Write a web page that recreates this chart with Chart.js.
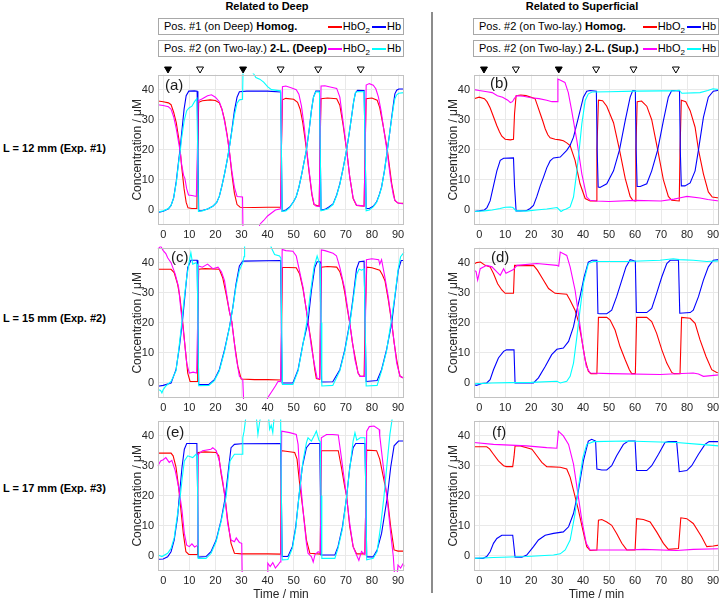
<!DOCTYPE html>
<html><head><meta charset="utf-8">
<script src="https://cdn.jsdelivr.net/npm/chart.js@4.4.1/dist/chart.umd.min.js"></script>
<style>
html,body{margin:0;padding:0;background:#fff;}
body{width:722px;height:603px;position:relative;overflow:hidden;font-family:"Liberation Sans",Arial,Helvetica,sans-serif;color:#000;}
.abs{position:absolute;white-space:nowrap;}
.hdr{font-weight:bold;font-size:11px;line-height:13px;text-align:center;width:220px;top:0px;}
.rowlab{font-weight:bold;font-size:11px;line-height:14px;left:3px;}
.legbox{position:absolute;border:1px solid #a8a8a8;background:#fff;box-sizing:border-box;height:17px;font-size:11px;line-height:15px;}
.legbox .txt{position:absolute;left:5px;top:0;white-space:nowrap;}
.legbox .items{position:absolute;right:2px;top:0;height:15px;display:flex;align-items:center;white-space:nowrap;}
.sw{display:inline-block;width:14px;height:2px;margin-right:1px;}
.lt{margin-right:2px;}
.lt:last-child{margin-right:0;}
sub{font-size:8px;line-height:0;vertical-align:-3px;}
.plab{font-size:15px;line-height:17px;color:#1a1a1a;z-index:5;}
canvas{position:absolute;}
.strip{z-index:4;}
.sep{position:absolute;left:431px;top:12px;width:2px;height:581px;background:#8c8c8c;}
</style></head><body>

<div class="abs hdr" style="left:157px;">Related to Deep</div>
<div class="abs hdr" style="left:472px;">Related to Superficial</div>
<div class="sep"></div>

<div class="legbox" style="left:158px;top:18px;width:246px;"><span class="txt">Pos. #1 (on Deep) <b>Homog.</b></span><span class="items"><span class="sw" style="background:#ff0000"></span><span class="lt">HbO<sub>2</sub></span><span class="sw" style="background:#0000ff"></span><span class="lt">Hb</span></span></div>
<div class="legbox" style="left:158px;top:40px;width:246px;"><span class="txt">Pos. #2 (on Two-lay.) <b>2-L. (Deep)</b></span><span class="items"><span class="sw" style="background:#ff00ff"></span><span class="lt">HbO<sub>2</sub></span><span class="sw" style="background:#00ffff"></span><span class="lt">Hb</span></span></div>
<div class="legbox" style="left:473px;top:18px;width:246px;"><span class="txt">Pos. #2 (on Two-lay.) <b>Homog.</b></span><span class="items"><span class="sw" style="background:#ff0000"></span><span class="lt">HbO<sub>2</sub></span><span class="sw" style="background:#0000ff"></span><span class="lt">Hb</span></span></div>
<div class="legbox" style="left:473px;top:40px;width:246px;"><span class="txt">Pos. #2 (on Two-lay.) <b>2-L. (Sup.)</b></span><span class="items"><span class="sw" style="background:#ff00ff"></span><span class="lt">HbO<sub>2</sub></span><span class="sw" style="background:#00ffff"></span><span class="lt">Hb</span></span></div>

<div class="abs rowlab" style="top:141px;">L = 12 mm (Exp. #1)</div>
<div class="abs rowlab" style="top:311px;">L = 15 mm (Exp. #2)</div>
<div class="abs rowlab" style="top:481px;">L = 17 mm (Exp. #3)</div>

<script>
// ---------- DATA ----------
const timeTicks = [0,10,20,30,40,50,60,70,80,90];
const concTicks = [0,10,20,30,40];
const deoxyEvents = [0, 30];
const reoxyEvents = [12.8, 45, 60, 77];
const panelLetters = ['(a)','(b)','(c)','(d)','(e)','(f)'];

// (a) Exp #1, related to deep
const aHomogHbO2 = [[-2,36.2],[0,36],[2,35.6],[3,35],[4,32.5],[5,29],[6,23.5],[6.5,20],[7,15],[8,7],[8.8,2.5],[9.5,0.7],[11,0.5],[12.9,0.5],[13.2,20],[13.6,35.8],[15,36.3],[18,36.6],[20,36.4],[21.5,35.6],[22.5,33.5],[23.5,30],[24.5,25],[25.3,20],[26.3,12],[27.3,5.5],[28.3,1.8],[29.5,0.9],[35,0.8],[40,0.9],[45,0.9],[45.3,20],[45.7,36.6],[47,37.1],[50,36.8],[51.5,35.8],[52.5,33.5],[53.5,29],[54.3,24],[55,19.5],[56,12],[57,5],[57.8,1.8],[59.8,1.2],[60.1,20],[60.5,37],[63,37.2],[66.5,37],[67.7,34.8],[69,28],[70.3,20],[71.5,11],[72.8,3.8],[74.1,1.5],[77,1.3],[77.4,20],[77.8,37],[80,37.2],[82,36.5],[83,34],[84.4,27.6],[85.9,20],[87.6,8.7],[88.8,3.2],[90,2.3],[92.3,2.2]];
const aHomogHb = [[-2,-0.8],[0,-0.4],[2,0.4],[3,1.5],[4,4],[5,9.5],[6,17],[6.5,20.5],[7,25],[8,33.5],[8.8,38],[9.8,39.5],[12,39.6],[13,39.5],[13.3,20],[13.6,-0.4],[15,-0.2],[17,0.3],[19,1.2],[20.5,2.5],[21.5,4.5],[22.5,8],[23.5,12],[24.5,16.5],[25.3,20.5],[26.3,26.5],[27.3,33],[28.3,37.5],[29.2,39.3],[32,39.5],[40,39.5],[45,39.2],[45.3,20],[45.6,-0.4],[47,0],[48.5,1],[50,2.8],[51,4.5],[52,7.5],[53,11.5],[54,16],[54.9,20],[56,27],[56.8,33],[57.6,37.5],[58.5,39.5],[59.9,39.5],[60.2,20],[60.5,0],[62,0.2],[63.5,1],[65.1,2],[66.5,5],[67.7,8.7],[69,14],[70.3,20],[71.3,25.5],[72.2,31],[73,36],[73.7,39],[74.5,39.8],[77,39.7],[77.4,20],[77.8,0.5],[79,0.5],[80.5,1.2],[81.8,2.7],[82.8,5],[83.7,7.6],[84.8,13],[85.9,19.8],[86.8,25.5],[87.6,31],[88.3,35.5],[88.8,38.6],[89.5,39.8],[90.3,40.2],[92.3,40.2]];
const aTwoLayerHbO2 = [[-2,35],[0,34.7],[2,34.3],[3,33.5],[4,31],[5,27],[6,22],[6.5,19.5],[7,15.5],[7.8,11.5],[8.3,10.5],[9,7],[9.7,5],[11,4.8],[12.7,4.5],[13.1,20],[13.4,36.3],[15,37],[17,38],[18.5,38.3],[20,37.5],[21.5,36],[22.5,33.5],[23.5,29.5],[24.5,24.5],[25.3,20],[26.3,13],[27.3,7.5],[28.3,4.5],[30.4,4.3],[30.6,-8],[36.5,-8],[37,-4.8],[38.5,-3.5],[40,-2],[41.5,-1],[43,0],[45,0.4],[45.3,20],[45.7,41],[47,41.2],[49,40.6],[51,40],[52,38.5],[53,34.5],[54,28],[55,20],[56,12.5],[57,5.5],[57.8,2],[58.5,1.3],[59.8,1.1],[60.1,20],[60.5,41.2],[62,41.3],[64,40.9],[66.5,40.4],[67.7,37.5],[69,29],[70.3,20],[71.5,11],[72.8,4],[74.1,1.6],[77,1.3],[77.4,20],[77.8,41.5],[79,42],[80.5,41.5],[81.5,40.3],[82.5,37.5],[83.5,33],[84.4,27.6],[85.9,19],[87.2,10],[88.2,5],[88.8,3.2],[90,2.3],[92.3,2]];
const aTwoLayerHb = [[-2,-0.7],[0,-0.3],[2,0.5],[3,1.5],[4,4],[5,9],[6,16.5],[6.6,20],[7,23.5],[8,29.5],[9,33],[10,34],[11,34.5],[12,36],[12.9,37],[13.2,20],[13.5,-0.5],[15,-0.3],[17,0.3],[19,1.2],[20.5,2.5],[21.5,4.5],[22.5,8],[23.5,12],[24.5,16.5],[25.3,20.5],[26.3,26],[27.3,31.5],[28.3,35.5],[29.2,36.6],[30.4,36.8],[30.6,46.5],[33,46],[34.5,45.5],[35.5,44],[37,43.5],[38.5,42.5],[40,41],[41.5,40],[45,39.6],[45.3,20],[45.6,-0.5],[47,-0.3],[48.5,0.8],[50,2.8],[51,4.5],[52,7.5],[53,11.5],[54,16],[54.9,20],[56,27],[56.8,33],[57.6,37.5],[58.5,39.3],[59.9,39.2],[60.2,20],[60.5,-0.3],[63,0.3],[65.1,1.8],[66.5,4.8],[67.7,8.5],[69,14],[70.3,20],[71.3,25.5],[72.2,31],[73,36],[73.7,39],[74.5,39.4],[77,39.3],[77.4,20],[77.8,-0.3],[79,0],[80.5,1],[81.8,2.5],[82.8,4.8],[83.7,7.5],[84.8,13],[85.9,19.8],[86.8,25.5],[87.6,30.5],[88.3,34.5],[88.8,37],[89.5,38.3],[90.3,38.8],[92.3,39]];

// (b) Exp #1, related to superficial
const bHomogHbO2 = [[-2,37],[0,37.5],[2,37],[3,36],[4.2,34],[5.5,31],[6.8,28],[7.8,26],[8.7,24.5],[10,23.5],[12,23.3],[13.2,23.5],[13.6,32],[14.2,38],[16,38.2],[18,38],[20,37.5],[21.5,37],[22.5,34.5],[23.5,32],[24.5,29.5],[25.4,27],[26.4,25],[27.3,24],[29.2,23.5],[31,23.3],[32.4,23],[33.7,22.3],[35,21.4],[36.9,16.5],[38.8,8.7],[40.8,3.8],[42.7,3],[45,3],[45.3,20],[45.9,36.5],[47.5,36.3],[49.1,34.5],[51.7,29],[54,20],[56.2,10.5],[58.1,4.5],[59.1,3.2],[60,3],[60.3,20],[60.8,36],[62.5,36.2],[64.5,34.5],[66.4,30],[68.7,20],[70.9,10],[72.8,4.5],[74.1,3.2],[77,3],[77.3,20],[77.8,36.5],[79.5,36],[81.2,33],[83.1,27.5],[84.4,20],[86.3,12],[88.2,6],[89.7,4.3],[92.3,4]];
const bHomogHb = [[-2,-0.5],[0,-0.3],[2,0],[3,0.8],[4.2,3],[5.5,8],[6.8,13],[8.1,16.5],[9.4,17.2],[13.2,17.3],[13.6,8],[14.2,-0.3],[16,-0.3],[18.3,-0.2],[19.6,0.5],[20.9,1.5],[22.2,4.5],[23.5,8],[24.8,11],[26,14],[27.3,16.3],[28.6,17.3],[31.2,17.6],[33.7,19.8],[35,21.5],[36.3,24.2],[38.2,30.8],[40.1,37.5],[41.4,39.5],[42.7,39.7],[45.1,39.5],[45.4,20],[45.8,7.6],[46.5,7.5],[49.1,8.7],[51.7,13],[54,20],[56.2,29.7],[58.1,37.5],[59.1,39.7],[60.1,39.6],[60.4,20],[60.8,7.8],[62,7.8],[64.5,8.7],[66.4,13],[68.7,20],[70.9,29.7],[72.8,37.5],[74.1,39.7],[77.1,39.6],[77.4,20],[77.8,8],[79.2,8],[81.2,9],[83.1,13],[84.4,20],[86.3,30.8],[88.2,37.5],[90.1,39.5],[92.3,39.8]];
const bTwoLayerHbO2 = [[-2,40],[0,39.7],[3,39.3],[5,39],[7,38],[9,37.5],[11,36.5],[12,35.7],[12.8,36],[13.5,37],[14.5,38],[17,37.8],[20,37.3],[23,37],[26,36.5],[28,36],[30,36],[30.3,43.5],[31.5,43],[33,42.4],[34.3,39],[35.6,33],[37.6,23],[39.5,12],[41.4,4.3],[42.7,3.2],[45,3],[50,2.8],[60,3.2],[70,3],[75,3.6],[77,4],[80,4.5],[85,4],[88,3.5],[92.3,3]];
const bTwoLayerHb = [[-2,-0.5],[2,-0.3],[5,0],[8,0.5],[10,0.9],[12,1],[13,0.8],[14.2,-0.3],[16,-0.3],[18,-0.4],[22,0],[26,0.3],[30,0.8],[31.5,-0.5],[32.4,0],[33.5,0.3],[35,1],[36.3,4.3],[37.6,13],[38.5,20],[39.5,28.6],[40.8,36.4],[42,38.6],[43.5,39.2],[50,39.3],[60,39.5],[70,39.6],[75,39.6],[77,39.8],[78,38.8],[85,39],[88,39.7],[90,40.3],[92.3,40]];

// (c) Exp #2, related to deep
const cHomogHbO2 = [[-2,37.8],[0,37.8],[3,37.8],[4.2,36.7],[5.5,32.9],[6.4,28.5],[7.4,20.8],[8.5,11],[9.4,3.3],[10.3,0.5],[13,0.5],[13.2,20],[13.6,37.8],[16,38],[21.5,37.8],[22.8,35],[24.1,29.6],[25.4,23.6],[26.3,20.3],[27.3,13.2],[28.6,5.5],[29.9,1.3],[35,1.1],[40,1.1],[45.1,1],[45.4,20],[45.7,38.4],[48,38.4],[51,38.3],[52.3,36.2],[53.6,31.2],[54.9,24.1],[55.5,20.3],[56.8,13.2],[58.1,4.4],[58.7,1.5],[60,1.2],[60.3,20],[60.6,38.5],[63,38.7],[66.5,38.5],[67.7,37],[68.7,34],[69.6,30],[70.5,25],[71.5,20],[72.5,13.5],[73.5,8.8],[74.7,3.3],[75.5,2.2],[77,2.2],[77.4,20],[78,38.5],[80,38.3],[83,37.5],[84,36],[85,34],[86.3,27.5],[87.6,20],[88.5,13.5],[89.5,7.7],[90.3,4],[90.8,2.2],[92.3,1.6]];
const cHomogHb = [[-2,-1.1],[0,-0.8],[3,0],[4.9,4.4],[6.2,12],[7.4,20.8],[8.5,30.7],[9.4,38.4],[10.6,40.8],[13,40.8],[13.3,20],[13.6,-0.5],[17.5,-0.5],[19.6,1.1],[21.5,4.4],[23.5,11],[25.4,18.6],[26.7,25.2],[27.9,32.9],[29.2,38.9],[30.5,40.5],[45,40.7],[45.3,20],[45.6,0],[49.7,0],[51.7,4.4],[53.6,13.2],[55.5,20.3],[56.8,30.7],[58.1,38.4],[59,40.3],[60.1,40.3],[60.4,20],[60.7,0.3],[65,0.4],[67.7,4.4],[69.6,11],[71.5,20],[72.8,28.5],[74.1,37.9],[75.1,40.3],[77,40.5],[77.4,20],[77.8,0.5],[82,0.8],[83.7,4.4],[85.6,11],[87.6,20],[88.8,28.5],[90.1,37.4],[91.2,40.7],[92.3,40.7]];
const cTwoLayerHbO2 = [[-2,44.5],[-1,45.5],[0,44],[1,43],[1.7,41.6],[3,40],[4.6,36.2],[5.9,31.8],[6.8,24],[7.4,20],[8.1,14.2],[9,6.6],[10,3.3],[11.5,3.6],[12.8,3.3],[13.2,20],[13.5,38.9],[15,38.5],[17,39.5],[19,38],[21,38.5],[22.3,37],[23.5,34],[25.4,23.6],[26.3,20.3],[27.9,8.8],[29.2,2.2],[30.5,1.1],[30.9,-8],[39.5,-8],[40,-5],[41.5,-3],[43,-1],[44,0.5],[45,0.5],[45.3,20],[45.6,44.4],[47,44],[49.7,43.8],[51,42.2],[52.3,37],[53.6,31.8],[55.5,20.3],[56.8,12],[58.1,5.5],[59,1.5],[60,1.5],[60.3,20],[60.6,44.2],[62,44],[65.1,43.1],[66.4,42.3],[67.7,38.4],[69.6,31.2],[71.5,20],[73.5,7.7],[74.7,3.3],[75.5,2.2],[77.2,2.2],[77.5,20],[77.9,41],[80,41.3],[82.6,41],[83,39.5],[83.7,41],[85,35],[86.3,28.5],[87.6,20],[89.5,6.6],[90.8,2.2],[92.3,1.6]];
const cTwoLayerHb = [[-2,-2.2],[-1,-2.5],[-0.5,-3.3],[0,-2.2],[1,-1],[3,0.5],[4.9,4],[5.8,10],[6.8,17.5],[8.1,28.5],[9,35],[10,40.5],[10.6,43.3],[11.3,39.5],[12.6,40],[13,39.5],[13.3,20],[13.6,-0.9],[17.5,-0.8],[19.6,0.8],[21.5,4],[23.5,10.5],[25.4,18.5],[26.7,25],[27.9,32],[29.2,37.5],[30.5,40],[31,42],[31.2,47],[41,47],[41.4,45],[42.7,42.7],[44.6,42.2],[45.1,41.5],[45.4,20],[45.7,-0.5],[49.7,-0.5],[51.7,4],[53.6,13],[55,20],[56.5,30.5],[57.8,38.5],[59,42.2],[59.8,40],[60.2,39.5],[60.5,20],[60.8,-1],[65,-0.8],[67.7,4],[69.6,10.5],[71.5,19.5],[72.8,27.5],[74.1,36],[75.1,37.9],[76,37.5],[77,37.9],[77.4,20],[77.8,-1],[82,-0.8],[83.7,4],[85.6,10.5],[87.3,20],[88.8,29],[90.1,38],[91,42],[92.3,43.4]];

// (d) Exp #2, related to superficial
const dHomogHbO2 = [[-2,39.5],[-1,40],[0.5,40.2],[2.3,39.1],[4.2,38.6],[5.5,36.4],[7.1,33],[8.7,30.9],[10,29.8],[13.2,29.8],[13.6,39.1],[16,39],[20.9,39.1],[22.4,37.5],[24.7,34.2],[26.7,31.4],[29.2,29.8],[33.7,29.5],[35,27.5],[36.9,24.2],[38.2,20.4],[39.5,14.3],[40.8,7.7],[42,3.9],[43,3.1],[45.3,3.1],[45.9,21.8],[49.1,21.8],[50.4,20.9],[52.3,17.6],[54.2,12.1],[56.2,7.7],[57.8,4.4],[58.7,3.1],[60.1,3.1],[60.6,21.8],[64.5,21.8],[66.4,20.4],[68.3,16.5],[70.3,11],[72.2,6.6],[74.1,3.5],[75,3.1],[77.3,3.1],[77.9,21.8],[81.2,21.5],[83.1,19.8],[85,14.3],[87.3,8.8],[89.5,4.4],[91.4,3.5],[92.3,3.4]];
const dHomogHb = [[-2,-0.6],[-1,-0.8],[1,-0.2],[2.9,0],[4.2,1.1],[5.5,4.4],[7.4,8.3],[9.4,10.5],[10.5,11],[13.4,11],[13.8,0],[20.9,0],[22.8,1.7],[25.4,5.5],[27.9,9.4],[29.9,11.2],[32.4,11.6],[34.4,13.8],[36.3,18.7],[37.6,24.2],[38.8,28.7],[40.4,35.3],[42,40.2],[43.5,40.8],[45.3,40.8],[45.7,23.1],[46.5,23],[49.1,23],[51,24.2],[52.9,28.7],[54.9,34.2],[56.5,38.6],[58.1,41],[59.6,40.6],[60.1,40.5],[60.5,23.4],[64.5,23.4],[66.4,24.8],[68.3,29.8],[70.3,35.3],[72.2,39.7],[73.5,40.8],[76.7,40.8],[77.2,23.2],[81.2,23.4],[82.4,24.2],[84.4,28.7],[86.3,34.2],[88.2,38.6],[90.1,40.8],[92.3,41]];
const dTwoLayerHbO2 = [[-2,37.5],[-1.2,37],[-0.6,34.2],[0.4,38],[2.9,39.1],[4.9,38.6],[6.8,36.9],[8.1,35.8],[9.4,38],[10.3,36.5],[11.3,36.9],[13.2,37.7],[14.5,39.1],[22.2,39.7],[29.9,39.1],[30.6,38.8],[31.2,43.5],[33.7,42.4],[35,38.6],[36.9,30.9],[38.6,20.4],[39.9,12.1],[41.2,5.5],[42.7,3.3],[50.4,3.1],[69.6,2.8],[82.4,3.3],[84.4,3],[86.3,2.2],[92.3,2.7]];
const dTwoLayerHb = [[-2,-0.3],[5,0],[12,0.1],[20,0.2],[29.9,0.55],[31.2,0],[33.7,0.55],[35,2.2],[36.3,6.6],[37.6,15.4],[38.8,24.2],[40.1,33],[42,39.7],[44,40.4],[56.8,40.4],[69.6,40.8],[74.7,41.3],[77,41],[82.4,40.8],[87.6,40.4],[92.3,40.6]];

// (e) Exp #3, related to deep
const eHomogHbO2 = [[-2,34.2],[3,34.2],[3.8,33.3],[4.9,29.5],[5.9,22.9],[6.8,15.2],[7.7,7.5],[8.7,1.4],[9.8,0.5],[13,0.5],[13.2,20],[13.4,34.4],[16,34.6],[20.3,34.4],[21.3,33.3],[22.2,27.3],[23.5,20.7],[24.7,11.9],[26,4.2],[27.3,0.9],[30,0.7],[40,0.7],[45,0.6],[45.3,35],[47,34.8],[50.4,34.4],[51.3,32.2],[52.3,24],[53.6,15.2],[54.9,5.3],[56.2,0.9],[60.2,0.6],[60.6,35],[63,35],[67.1,35],[68.3,29.5],[69.6,22.9],[70.3,20],[71.5,9.7],[72.8,3.1],[74.1,0.7],[77.3,0.7],[77.7,20],[78,35.2],[81.8,35],[83,32.2],[84.4,26.2],[85.9,19.6],[87.2,9.7],[88.5,2],[90,1.6],[92.3,1.6]];
const eHomogHb = [[-2,-1.1],[0,-1],[1.7,-0.3],[3,1.4],[4.2,5.3],[5.5,13],[6.2,20.1],[7.2,29.5],[8.1,35.5],[9,37.4],[12.9,37.4],[13.2,20],[13.4,-0.4],[16.4,-0.2],[18.3,1.4],[20.3,5.3],[22.2,11.9],[23.8,19.6],[25.1,29.5],[26,36],[27.3,37.1],[30,37.3],[45,37.4],[45.3,20],[45.6,-0.2],[47.8,-0.2],[49.5,3.1],[50.8,9.7],[52,19.6],[53.3,29.5],[54.9,36],[56.2,37.4],[60,37.4],[60.3,20],[60.5,0.3],[65.8,0.3],[67,3.1],[68.7,9.7],[70.3,19.6],[71.5,29.5],[72.8,36],[73.8,37.4],[77.3,37.4],[77.7,20],[78,-0.3],[80.5,-0.3],[82,2],[83.7,7.5],[85.9,19.6],[87.2,29.5],[88.5,36.6],[90.2,38.2],[92.3,38.2]];
const eTwoLayerHbO2 = [[-2,30],[-1,31.6],[0,32],[1,32.7],[2.3,31.1],[3.3,31.8],[4.6,28.4],[5.9,22.9],[7.2,15.2],[8.1,7.5],[9,3.6],[10,3.1],[11,4],[12,3],[13,3.5],[13.2,20],[13.4,33.8],[15.1,35],[18.3,35.5],[19,36],[20.3,35],[21.5,31.6],[22.8,25.1],[23.8,18.5],[24.7,10.8],[26,5.3],[27.3,4.7],[28,6],[29.2,4.5],[30.1,4.2],[30.3,-8],[39.8,-8],[40.1,-2.4],[41,-3.5],[42,-2.2],[43,-4],[44,-3],[44.8,-2],[45.1,0.9],[45.4,41.5],[48.5,41],[51,40.4],[51.7,37.1],[52.3,28],[53.6,15],[54.9,4.2],[55.5,0.9],[56.8,-0.2],[57.5,-2],[58.2,0.5],[59.4,1.4],[60.2,1],[60.6,39.3],[62.6,40.4],[65,40.4],[67.1,40.2],[68.3,32.7],[70.3,19.6],[71.5,10.8],[72.8,3.1],[74.1,0.3],[75,-1.5],[76,1.5],[77.3,0.5],[77.7,20],[78,41.5],[79,43],[80.8,43.2],[82.8,42],[83,40],[84.4,29.5],[85.9,18.5],[87.2,7.5],[88.2,-0.2],[88.8,-8],[89.5,-8],[90,-3],[91,-4],[92,-2.5],[92.3,-3.5]];
const eTwoLayerHb = [[-2,0.3],[-0.5,-0.2],[1.7,0.9],[3,2.5],[4.2,6],[5.5,14],[6.5,19.6],[7.3,26],[8.1,31.6],[9.4,33.3],[11.3,32.7],[12.6,33.8],[13,33.5],[13.2,20],[13.4,-0.8],[16.4,-0.8],[18.3,0.8],[20.3,4.8],[22.2,11.5],[24.1,19.6],[25.6,31.6],[27.3,33.8],[30.2,33.8],[30.5,39.3],[31,41.5],[31.8,47],[35.6,47],[36.3,40.4],[37,44.8],[37.6,47],[40.3,47],[40.8,42.1],[41.4,43.5],[42,41],[42.6,47],[45,47],[45.3,20],[45.6,-1.3],[47.8,-1.2],[49.5,2.5],[50.8,9],[52,19.6],[53.6,31.6],[54.9,37.7],[55.5,39.3],[56.8,38.2],[58.1,40.4],[58.7,41.5],[59.7,38.5],[60.2,38],[60.5,20],[60.8,-0.8],[65.8,-0.8],[67,2.5],[68.7,9],[70.3,19.6],[71.5,29],[72.8,38.2],[73.5,41],[74.2,38.5],[75.5,39.3],[77.3,39.3],[77.7,20],[78,-1.3],[80.5,-0.8],[82,1.5],[83.3,9.7],[84.6,19.6],[85.9,31.6],[86.9,40.4],[88,47],[92.3,47]];

// (f) Exp #3, related to superficial
const fHomogHbO2 = [[-2,36.3],[2.9,36.3],[4,35.6],[5.5,33.8],[7.4,31.6],[9.4,30],[10.5,29.7],[12.9,29.7],[13.4,33],[13.8,36.6],[15.8,36.6],[18.3,36],[20.3,35.5],[22.2,33.3],[24.1,31.1],[26,29.7],[31.2,29.5],[33.7,28.9],[35,26.2],[36.3,21.8],[38.2,15.2],[39.9,8.6],[41.4,3.1],[42.7,1.8],[45.3,2],[45.9,11.9],[47.2,12.1],[49.1,11.3],[51,10.2],[52.9,7.5],[54.9,4.2],[56.8,2],[60,2],[60.6,12.4],[63.2,12.1],[65.8,11.3],[68.3,8],[70.9,4.2],[72.8,2.2],[76.7,2.5],[77.6,12.7],[79.9,12.4],[82.4,10.8],[85.6,6.4],[87.6,3.1],[90.1,3.3],[92.3,3.6]];
const fHomogHb = [[-2,-0.8],[1.5,-0.8],[2.9,-0.2],[4.2,1.4],[5.5,4.2],[6.8,5.8],[8.7,6.9],[12.9,6.9],[13.4,3],[13.8,-0.4],[16.4,-0.4],[18.3,0.3],[20.9,3.1],[22.8,5.3],[25.4,6.9],[28.6,7.5],[32.4,8],[34.4,9.7],[36.3,14.1],[38.2,21.8],[40.1,31.6],[42,38.2],[43.3,38.8],[44.8,38.2],[45.3,28.9],[47.2,28.6],[49.1,28.6],[51,30],[52.9,33.3],[55.5,37.1],[57.4,38.2],[60,38.2],[60.6,28.4],[64.5,28.4],[66.4,30],[69,33.8],[71.5,37.7],[72.8,38],[76,38],[77,28],[79.9,28.4],[81.8,30],[84.4,33.8],[86.9,37.1],[88.5,38],[92.3,38]];
const fTwoLayerHbO2 = [[-2,37.7],[5.5,37.1],[18.3,36.6],[26,36],[29.9,35.8],[30.5,41.5],[32.4,39.9],[34.4,37.1],[36.3,30.5],[37.8,21.8],[39.5,11.9],[41.2,4.2],[42.7,2],[56.8,2],[63.2,2.2],[76,1.8],[82.4,2.2],[92.3,2.4]];
const fTwoLayerHb = [[-2,-0.8],[5.5,-0.5],[18.3,-0.2],[28.6,0.3],[31.2,0.7],[33.1,2],[35,5.3],[36.9,14.1],[38.2,22.9],[39.9,32.7],[41.4,37.1],[44,38],[56.8,38.2],[76,37.7],[85,37.1],[92.3,36.6]];

// ---------- LAYOUT / STYLE ----------
const FONT = '"Liberation Sans", Arial, Helvetica, sans-serif';
const colLeft = [158, 474], colWidth = [246, 245];
const rowTop = [74, 247, 420], PLOT_H = 151;
const Y_AXIS_W = 32, TOP_PAD = 10, RIGHT_PAD = 4;
const X_MIN = -2, X_MAX = 92.3, Y_MIN = -5, Y_MAX = 45;
const labelPos = [[165,76],[490,74],[171,248],[491,248],[166,423],[492,423]];
const STRIP_TOP = 59, STRIP_H = 20, STRIP_MARK_Y = 0.5; // marker centre at 69 px

const panels = [
  {col:0,row:0,s:[aHomogHbO2,aHomogHb,aTwoLayerHbO2,aTwoLayerHb]},
  {col:1,row:0,s:[bHomogHbO2,bHomogHb,bTwoLayerHbO2,bTwoLayerHb]},
  {col:0,row:1,s:[cHomogHbO2,cHomogHb,cTwoLayerHbO2,cTwoLayerHb]},
  {col:1,row:1,s:[dHomogHbO2,dHomogHb,dTwoLayerHbO2,dTwoLayerHb]},
  {col:0,row:2,s:[eHomogHbO2,eHomogHb,eTwoLayerHbO2,eTwoLayerHb]},
  {col:1,row:2,s:[fHomogHbO2,fHomogHb,fTwoLayerHbO2,fTwoLayerHb]}
];
const seriesStyle = [
  {label:'HbO2 Homog.', color:'#ff0000', order:3},
  {label:'Hb Homog.', color:'#0000ff', order:2},
  {label:'HbO2 2-L.', color:'#ff00ff', order:1},
  {label:'Hb 2-L.', color:'#00ffff', order:0}
];

const boxPlugin = {
  id:'axbox',
  afterDatasetsDraw(chart){
    const {ctx, chartArea:a} = chart;
    ctx.save();
    ctx.strokeStyle = '#c2c2c2'; ctx.lineWidth = 1;
    ctx.strokeRect(Math.round(a.left)+0.5, Math.round(a.top)+0.5, Math.round(a.right-a.left)-1, Math.round(a.bottom-a.top)-1);
    ctx.restore();
  }
};

function addCanvas(left, top, w, h, cls){
  const c = document.createElement('canvas');
  c.width = w; c.height = h;
  c.style.left = left + 'px'; c.style.top = top + 'px';
  c.style.width = w + 'px'; c.style.height = h + 'px';
  if (cls) c.className = cls;
  document.body.appendChild(c);
  return c;
}

panels.forEach((p, i) => {
  const xh = p.row === 2 ? 31 : 22;
  const w = Y_AXIS_W + colWidth[p.col] + RIGHT_PAD;
  const h = TOP_PAD + PLOT_H + xh;
  const c = addCanvas(colLeft[p.col] - Y_AXIS_W, rowTop[p.row] - TOP_PAD, w, h);

  const datasets = p.s.map((arr, k) => ({
    label: seriesStyle[k].label,
    data: arr.map(([x,y]) => ({x, y})),
    borderColor: seriesStyle[k].color,
    backgroundColor: seriesStyle[k].color,
    borderWidth: 1.1,
    pointRadius: 0,
    tension: 0,
    fill: false,
    clip: 1,
    order: seriesStyle[k].order
  }));

  new Chart(c, {
    type:'line',
    data:{datasets},
    plugins:[boxPlugin],
    options:{
      responsive:false, animation:false, devicePixelRatio:1,
      layout:{padding:{top:TOP_PAD, right:RIGHT_PAD, left:0, bottom:0}},
      plugins:{legend:{display:false}, tooltip:{enabled:false}},
      scales:{
        x:{type:'linear', min:X_MIN, max:X_MAX,
          afterBuildTicks:s => { s.ticks = timeTicks.map(v => ({value:v})); },
          afterFit:s => { s.height = xh; },
          grid:{color:'#e9e9e9', drawTicks:false}, border:{display:false},
          ticks:{padding:3, color:'#262626', font:{size:11, family:FONT}, maxRotation:0, autoSkip:false},
          title:{display: p.row === 2, text:'Time / min', color:'#262626', font:{size:12, family:FONT}, padding:{top:0, bottom:0}}
        },
        y:{type:'linear', min:Y_MIN, max:Y_MAX,
          afterBuildTicks:s => { s.ticks = concTicks.map(v => ({value:v})); },
          afterFit:s => { s.width = Y_AXIS_W; },
          grid:{color:'#e9e9e9', drawTicks:false}, border:{display:false},
          ticks:{padding:4, color:'#262626', font:{size:11, family:FONT}},
          title:{display:true, text:'Concentration / μM', color:'#262626', font:{size:12, family:FONT}, padding:{top:4, bottom:0}}
        }
      }
    }
  });

  // event markers strip (top row only), using the same time range
  if (p.row === 0) {
    const sc = addCanvas(colLeft[p.col], STRIP_TOP, colWidth[p.col], STRIP_H, 'strip');
    new Chart(sc, {
      type:'scatter',
      data:{datasets:[
        {label:'deoxygenation', data: deoxyEvents.map(t => ({x:t, y:STRIP_MARK_Y})),
          pointStyle:'triangle', rotation:180, radius:4, backgroundColor:'#000', borderColor:'#000', borderWidth:1, clip:false},
        {label:'reoxygenation', data: reoxyEvents.map(t => ({x:t, y:STRIP_MARK_Y})),
          pointStyle:'triangle', rotation:180, radius:4, backgroundColor:'#fff', borderColor:'#000', borderWidth:1, clip:false}
      ]},
      options:{
        responsive:false, maintainAspectRatio:false, animation:false, devicePixelRatio:1,
        layout:{padding:0},
        plugins:{legend:{display:false}, tooltip:{enabled:false}},
        scales:{
          x:{type:'linear', min:X_MIN, max:X_MAX, display:false},
          y:{type:'linear', min:0, max:1, display:false}
        }
      }
    });
  }

  const lab = document.createElement('div');
  lab.className = 'abs plab';
  lab.style.left = labelPos[i][0] + 'px';
  lab.style.top = labelPos[i][1] + 'px';
  lab.textContent = panelLetters[i];
  document.body.appendChild(lab);
});
</script>
</body></html>
